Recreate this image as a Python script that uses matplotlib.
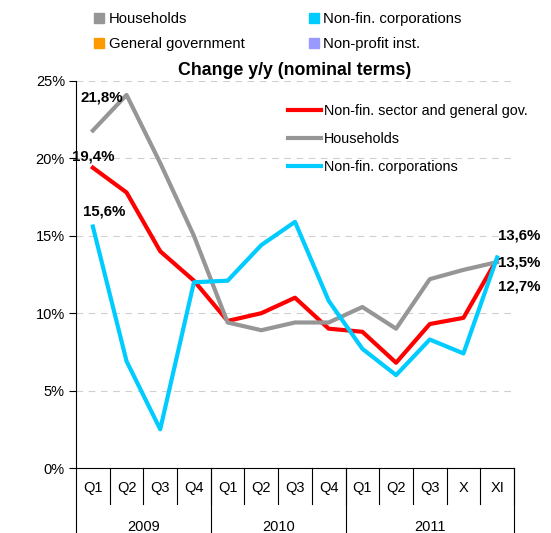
import matplotlib
matplotlib.use("Agg")
import matplotlib.pyplot as plt
from matplotlib.patches import Patch

plt.rcParams['font.family'] = ['Liberation Sans', 'DejaVu Sans']

# categories
quarters = ["Q1", "Q2", "Q3", "Q4", "Q1", "Q2", "Q3", "Q4", "Q1", "Q2", "Q3", "X", "XI"]
years = ["2009", "2010", "2011"]
year_spans = [(0, 3), (4, 7), (8, 12)]

# series (% y/y)
nonfin_gov = [19.4, 17.8, 14.0, 12.1, 9.5, 10.0, 11.0, 9.0, 8.8, 6.8, 9.3, 9.7, 13.5]
households = [21.8, 24.1, 19.7, 15.0, 9.4, 8.9, 9.4, 9.4, 10.4, 9.0, 12.2, 12.8, 13.3]
nonfin_corp = [15.6, 6.9, 2.5, 12.0, 12.1, 14.4, 15.9, 10.8, 7.7, 6.0, 8.3, 7.4, 13.6]

start_labels = ["21,8%", "19,4%", "15,6%"]
end_labels = ["13,6%", "13,5%", "12,7%"]

c_red = "#FF0000"
c_gray = "#969696"
c_cyan = "#00CCFF"

fig = plt.figure(figsize=(5.51, 5.33), dpi=100)
ax = fig.add_axes([76 / 551, (533 - 468) / 533, 438 / 551, 387 / 533])

x = list(range(len(quarters)))
ax.plot(x, nonfin_gov, color=c_red, lw=3, label="Non-fin. sector and general gov.", zorder=3)
ax.plot(x, households, color=c_gray, lw=3, label="Households", zorder=3)
ax.plot(x, nonfin_corp, color=c_cyan, lw=3, label="Non-fin. corporations", zorder=3)

ax.set_xlim(-0.5, len(quarters) - 0.5)
ax.set_ylim(0, 25)
ax.set_yticks([0, 5, 10, 15, 20, 25])
ax.set_yticklabels(["0%", "5%", "10%", "15%", "20%", "25%"], fontsize=10.5)
ax.tick_params(axis="y", direction="out", length=5, width=0.8, pad=3)
ax.set_xticks([])
for yv in [5, 10, 15, 20, 25]:
    ax.axhline(yv, color="#D0D0D0", lw=0.8, ls=(0, (6, 5)), zorder=1)

for s in ["top", "right"]:
    ax.spines[s].set_visible(False)
ax.spines["left"].set_linewidth(0.8)
ax.spines["bottom"].set_linewidth(0.8)

# category table below the axis
tr = ax.get_xaxis_transform()
q_depth = -36 / 387
y_depth = -65 / 387
ax.plot([-0.5, -0.5], [0, y_depth], transform=tr, color="black", lw=0.8, clip_on=False)
for i, q in enumerate(quarters):
    ax.text(i, -20 / 387, q, transform=tr, ha="center", va="center", fontsize=10.5)
    ax.plot([i + 0.5, i + 0.5], [0, q_depth], transform=tr, color="black", lw=0.8, clip_on=False)
for yr, (a, b) in zip(years, year_spans):
    ax.text((a + b) / 2, -59 / 387, yr, transform=tr, ha="center", va="center", fontsize=10.5)
    ax.plot([b + 0.5, b + 0.5], [0, y_depth], transform=tr, color="black", lw=0.8, clip_on=False)

# value labels
ax.text(0.27, 23.95, start_labels[0], ha="center", va="center", fontsize=10.8, fontweight="bold")
ax.text(0.0, 20.1, start_labels[1], ha="center", va="center", fontsize=10.8, fontweight="bold")
ax.text(0.33, 16.6, start_labels[2], ha="center", va="center", fontsize=10.8, fontweight="bold")
for k, yv in enumerate([15.05, 13.3, 11.7]):
    ax.text(12.03, yv, end_labels[k], ha="left", va="center", fontsize=10.8, fontweight="bold", clip_on=False)

ax.set_title("Change y/y (nominal terms)", fontsize=12.8, fontweight="bold", pad=4)

ax.legend(loc="upper left", bbox_to_anchor=(0.47, 0.955), frameon=False, fontsize=10.4,
          handlelength=2.3, handletextpad=0.2, labelspacing=0.95, borderaxespad=0)

# top legend
handles = [Patch(color="#969696"), Patch(color="#FF9900"), Patch(color="#00CCFF"), Patch(color="#9999FF")]
names = ["Households", "General government", "Non-fin. corporations", "Non-profit inst."]
fig.legend(handles, names, ncol=2, loc="upper left", bbox_to_anchor=(88 / 551, 1 - 6 / 533),
           frameon=False, fontsize=10.7, handlelength=0.7, handleheight=0.7, handletextpad=0.3,
           columnspacing=4.3, labelspacing=0.75, borderaxespad=0)

fig.savefig("out.png", dpi=100)
